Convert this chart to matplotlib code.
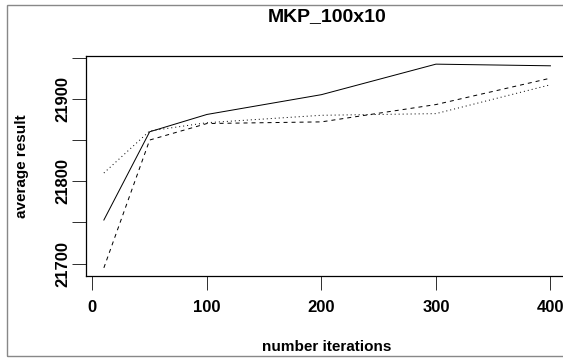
import matplotlib.pyplot as plt
from matplotlib.patches import Rectangle

# datos
iteraciones = [10, 50, 100, 200, 300, 400]
serie_solida = [21753, 21860, 21881, 21905, 21942, 21940]
serie_rayas = [21695, 21850, 21870, 21872, 21893, 21925]
serie_puntos = [21810, 21861, 21871, 21880, 21882, 21917]
y_ticks = [21700, 21750, 21800, 21850, 21900, 21950]
y_labels = ["21700", "", "21800", "", "21900", ""]
x_ticks = [0, 100, 200, 300, 400]

plt.rcParams['font.family'] = ['Liberation Sans', 'DejaVu Sans']
plt.rcParams['font.weight'] = 'bold'

fig = plt.figure(figsize=(5.63, 3.58), dpi=100)
# marco gris de la imagen original (recortado a la derecha)
fig.patches.append(Rectangle((7 / 563, 2 / 358), 1.2, 351 / 358, transform=fig.transFigure,
                             fill=False, edgecolor='#888888', linewidth=1.0))

ax = fig.add_axes([86 / 563, 82 / 358, 482.3 / 563, 220 / 358])
lw = 0.72
ax.plot(iteraciones, serie_solida, color='black', linewidth=lw)
ax.plot(iteraciones, serie_rayas, color='black', linewidth=lw, dashes=(4, 4))
ax.plot(iteraciones, serie_puntos, color='black', linewidth=lw, dashes=(1, 3))

# rango con el 4% extra como en R
xmin, xmax = min(iteraciones), max(iteraciones)
todos = serie_solida + serie_rayas + serie_puntos
ymin, ymax = min(todos), max(todos)
ax.set_xlim(xmin - 0.04 * (xmax - xmin), xmax + 0.04 * (xmax - xmin))
ax.set_ylim(ymin - 0.04 * (ymax - ymin), ymax + 0.04 * (ymax - ymin))

ax.set_xticks(x_ticks)
ax.set_xticklabels([str(t) for t in x_ticks], fontsize=12, fontweight='bold')
ax.set_yticks(y_ticks)
ax.set_yticklabels(y_labels, fontsize=12, fontweight='bold', rotation=90, va='center')
ax.tick_params(axis='x', length=10, width=0.72, pad=7, color='#333333')
ax.tick_params(axis='y', length=10, width=0.72, pad=1, color='#333333')
for s in ax.spines.values():
    s.set_linewidth(0.9)

fig.text(327 / 563, 1 - 17 / 358, "MKP_100x10", ha='center', va='center',
         fontsize=14, fontweight='bold')
fig.text(327 / 563, 1 - 347 / 358, "number iterations", ha='center', va='center',
         fontsize=11, fontweight='bold')
fig.text(22 / 563, 1 - 166 / 358, "average result", ha='center', va='center',
         rotation=90, fontsize=11, fontweight='bold')

fig.savefig("out.png", dpi=100)
